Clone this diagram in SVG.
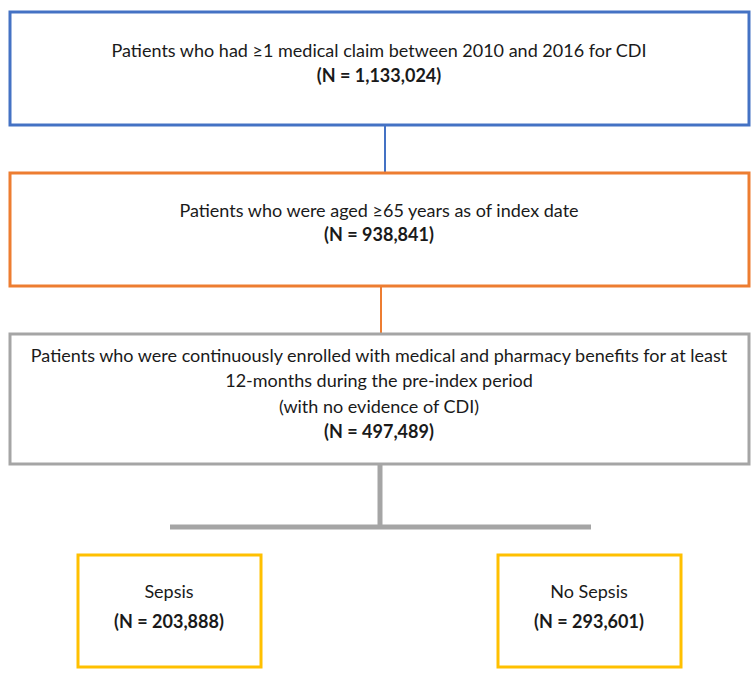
<svg xmlns="http://www.w3.org/2000/svg" width="756" height="677" viewBox="0 0 756 677">
<style>
.box{fill:#fff;stroke-width:3}
.t{font-family:Lato,"Open Sans","Liberation Sans",sans-serif;font-size:18px;fill:#1a1a1a;text-anchor:middle}
.b{font-weight:bold}
</style>
<rect width="756" height="677" fill="#fff"/>
<g id="connectors">
<line x1="385" y1="125" x2="385" y2="172" stroke="#4472C4" stroke-width="2"/>
<line x1="381" y1="286" x2="381" y2="334" stroke="#ED7D31" stroke-width="2"/>
<line x1="380" y1="464" x2="380" y2="527" stroke="#A5A5A5" stroke-width="5"/>
<line x1="170" y1="527" x2="591" y2="527" stroke="#A5A5A5" stroke-width="5"/>
</g>
<g id="n1">
<rect class="box" x="10" y="12" width="739" height="113" stroke="#4472C4"/>
<text class="t" x="379" y="57">Patients who had ≥1 medical claim between 2010 and 2016 for CDI</text>
<text class="t b" x="379" y="82">(N = 1,133,024)</text>
</g>
<g id="n2">
<rect class="box" x="10" y="173" width="739" height="113" stroke="#ED7D31"/>
<text class="t" x="379" y="217">Patients who were aged ≥65 years as of index date</text>
<text class="t b" x="379" y="241">(N = 938,841)</text>
</g>
<g id="n3">
<rect class="box" x="10" y="334" width="739" height="130" stroke="#A5A5A5"/>
<text class="t" x="379" y="362">Patients who were continuously enrolled with medical and pharmacy benefits for at least</text>
<text class="t" x="379" y="387">12-months during the pre-index period</text>
<text class="t" x="379" y="413">(with no evidence of CDI)</text>
<text class="t b" x="379" y="438">(N = 497,489)</text>
</g>
<g id="n4">
<rect class="box" x="78" y="555" width="183" height="112" stroke="#FFC000"/>
<text class="t" x="169" y="598">Sepsis</text>
<text class="t b" x="169" y="628">(N = 203,888)</text>
</g>
<g id="n5">
<rect class="box" x="498" y="555" width="183" height="112" stroke="#FFC000"/>
<text class="t" x="589" y="598">No Sepsis</text>
<text class="t b" x="589" y="628">(N = 293,601)</text>
</g>
</svg>
